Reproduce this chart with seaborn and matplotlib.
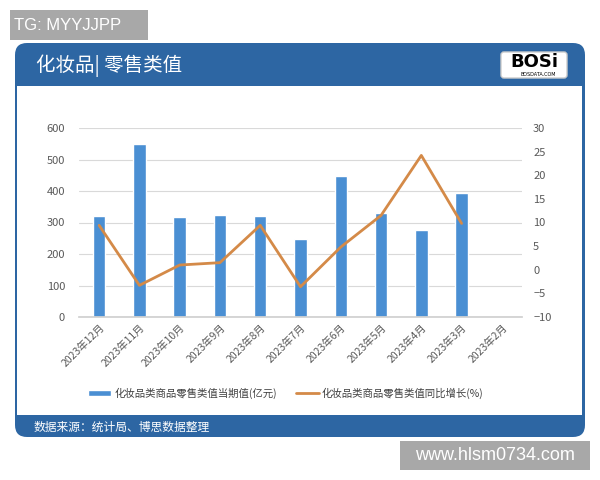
import numpy as np
import pandas as pd
import seaborn as sns
import matplotlib.pyplot as plt
from matplotlib.patches import FancyBboxPatch, Rectangle
from matplotlib.transforms import IdentityTransform

# data
months = ["2023年12月", "2023年11月", "2023年10月", "2023年9月", "2023年8月", "2023年7月",
          "2023年6月", "2023年5月", "2023年4月", "2023年3月", "2023年2月"]
sales = [320, 549, 318, 324, 320, 248, 449, 329, 277, 394]   # 亿元
growth = [9.4, -3.3, 1.0, 1.5, 9.4, -3.6, 4.8, 11.5, 24.2, 9.8]  # %

bar_label = "化妆品类商品零售类值当期值(亿元)"
line_label = "化妆品类商品零售类值同比增长(%)"

sns.set_theme(style="white")
plt.rcParams['font.family'] = ['Noto Sans CJK SC', 'DejaVu Sans']

BLUE_BAR = "#4a8fd3"
ORANGE = "#d48a48"
HEAD = "#2d66a3"
TXT = "#595959"

fig = plt.figure(figsize=(6, 4.8), dpi=100)
fig.patch.set_facecolor("white")
pix = IdentityTransform()

# card background + header/footer bands
card = FancyBboxPatch((15, 43), 570, 394, boxstyle="round,pad=0,rounding_size=12",
                      facecolor=HEAD, edgecolor="none", transform=pix, zorder=0)
fig.patches.append(card)
inner = Rectangle((17, 65), 565, 329, facecolor="white", edgecolor="none",
                  transform=pix, zorder=1)
fig.patches.append(inner)

fig.text(36 / 600, 1 - 66 / 480, "化妆品| 零售类值", color="white", fontsize=14,
         va="center", ha="left", fontweight="medium")
fig.text(34 / 600, 1 - 427 / 480, "数据来源：统计局、博思数据整理", color="white",
         fontsize=8.5, va="center", ha="left")

# logo
logo = FancyBboxPatch((501, 402), 66, 26, boxstyle="round,pad=0,rounding_size=3",
                      facecolor="white", edgecolor="#cccccc", transform=pix, zorder=2)
fig.patches.append(logo)
fig.text(534 / 600, 1 - 62 / 480, "BOSi", color="black", fontsize=13, fontweight="bold",
         ha="center", va="center", family="DejaVu Sans")
fig.text(538 / 600, 1 - 75 / 480, "BOSDATA.COM", color="black", fontsize=3.5,
         ha="center", va="center", family="DejaVu Sans")

# watermark boxes
fig.patches.append(Rectangle((10, 440), 138, 30, facecolor="#a8a8a8", edgecolor="none",
                             transform=pix, zorder=3))
fig.text(14 / 600, 1 - 25 / 480, "TG: MYYJJPP", color="white", fontsize=12,
         ha="left", va="center", family="Liberation Sans")
fig.patches.append(Rectangle((400, 10), 190, 29, facecolor="#a8a8a8", edgecolor="none",
                             transform=pix, zorder=3))
fig.text(495 / 600, 1 - 455 / 480, "www.hlsm0734.com", color="white", fontsize=13,
         ha="center", va="center", family="Liberation Sans")

# main chart
ax = fig.add_axes([79 / 600, 1 - 317 / 480, 443 / 600, 189 / 480])
ax.set_zorder(5)
ax.patch.set_alpha(0)
df = pd.DataFrame({"month": months[:len(sales)], "sales": sales})
sns.barplot(data=df, x="month", y="sales", order=months, color=BLUE_BAR,
            width=0.31, saturation=1, ax=ax, label=bar_label)
if ax.get_legend() is not None:
    ax.get_legend().remove()
ax.set_ylim(0, 600)
ax.set_yticks(range(0, 601, 100))
ax.set_xlim(-0.5, len(months) - 0.5)
ax.yaxis.grid(True, color="#d9d9d9", linewidth=0.8)
ax.set_axisbelow(True)
for s in ["top", "right", "left"]:
    ax.spines[s].set_visible(False)
ax.spines["bottom"].set_color("#d0d0d0")
ax.set_xlabel("")
ax.set_ylabel("")
ax.tick_params(axis="y", labelsize=8, colors=TXT, length=0, pad=10)
ax.set_xticks(range(len(months)))
ax.set_xticklabels(months, rotation=45, ha="right", rotation_mode="anchor",
                   fontsize=7.5, color=TXT)
ax.tick_params(axis="x", length=0, pad=4)
ax.set_xticks(np.arange(-0.5, len(months), 1), minor=True)
ax.tick_params(axis="x", which="minor", length=4, color="#d0d0d0", direction="out")

ax2 = ax.twinx()
sns.lineplot(x=np.arange(len(growth)), y=growth, color=ORANGE, linewidth=2,
             ax=ax2, label=line_label)
ax2.set_ylim(-10, 30)
ax2.set_yticks(range(-10, 31, 5))
for s in ax2.spines.values():
    s.set_visible(False)
ax2.tick_params(axis="y", labelsize=8, colors=TXT, length=0, pad=8)
ax2.get_legend().remove()

h1, l1 = ax.get_legend_handles_labels()
h2, l2 = ax2.get_legend_handles_labels()
fig.legend(h1 + h2, l1 + l2, loc="center", bbox_to_anchor=(286 / 600, 1 - 393 / 480),
           ncol=2, frameon=False, fontsize=7.5, handlelength=2.2, columnspacing=1.8,
           handletextpad=0.3, handleheight=0.5, labelcolor="#404040")

fig.savefig("out.png", dpi=100)
